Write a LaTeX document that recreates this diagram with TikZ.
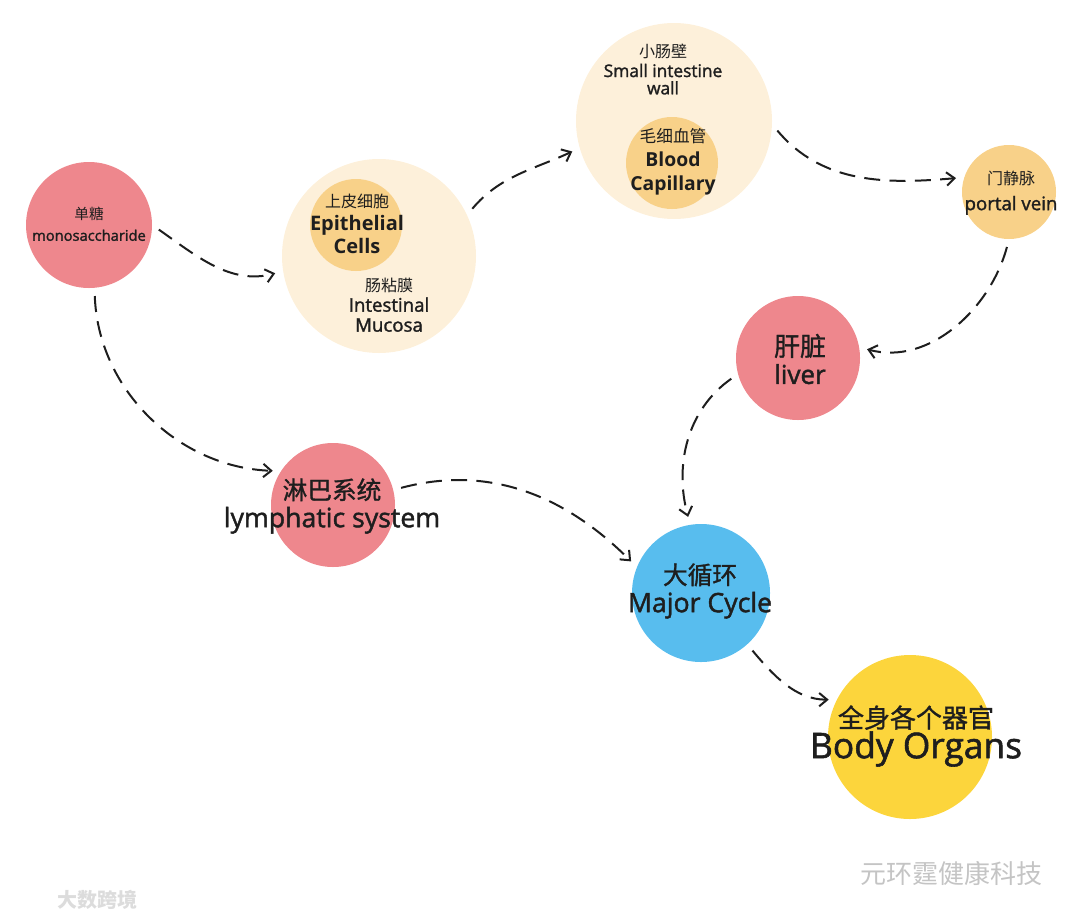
\documentclass[tikz,border=0pt]{standalone}
\usepackage{fontspec}
\setmainfont{Open Sans}
\newfontfamily\semi{Open Sans}[FakeBold=1.6]
\newfontfamily\cjk{Noto Sans CJK SC}
\newfontfamily\cjkb{Noto Sans CJK SC}[FakeBold=1.2]
\definecolor{cPink}{HTML}{EE878D}
\definecolor{cCream}{HTML}{FDF0DA}
\definecolor{cTan}{HTML}{F8D189}
\definecolor{cBlue}{HTML}{58BDEE}
\definecolor{cGold}{HTML}{FCD53C}
\definecolor{cInk}{HTML}{1E1E1E}
\definecolor{cMark}{HTML}{C4C4C4}
\usetikzlibrary{arrows.meta}
\newcommand{\ball}[5]{%
 \node[circle, inner sep=0pt, fill=#5, minimum size=#4*0.75pt] (#3) at (#1,-#2) {};}
\tikzset{
 flow/.style={-{Straight Barb[length=6pt,width=10pt]}, line width=1.5pt, cInk,
   dash pattern=on 12pt off 7pt, shorten <=6pt, shorten >=6pt},
 txt/.style={align=center, text=cInk, inner sep=0pt}
}

\begin{document}
\begin{tikzpicture}[x=0.75pt,y=0.75pt]
\useasboundingbox (0,0) rectangle (1080,-921);
% circles
\ball{89}{225}{mono}{126}{cPink}
\ball{379}{256}{muc}{194}{cCream}
\ball{356}{225}{epi}{92}{cTan}
\ball{674}{121}{wall}{196}{cCream}
\ball{672}{163}{cap}{92}{cTan}
\ball{1009}{192}{port}{94}{cTan}
\ball{798}{358}{liv}{124}{cPink}
\ball{333}{505}{lym}{124}{cPink}
\ball{701}{593}{maj}{138}{cBlue}
\ball{910}{737}{body}{164}{cGold}
% labels
\node[txt, font=\semi\fontsize{11}{16}\selectfont] (monoT) at (89,-224) {{\cjk 单糖}\\monosaccharide};
\node[txt, font=\bfseries\fontsize{15}{17}\selectfont] (epiT) at (357,-224) {{\cjk\mdseries\fontsize{12}{17}\selectfont 上皮细胞}\\Epithelial\\Cells};
\node[txt, font=\semi\fontsize{14}{15}\selectfont] (mucT) at (389,-305) {{\cjk\fontsize{12}{15}\selectfont 肠粘膜}\\Intestinal\\Mucosa};
\node[txt, font=\semi\fontsize{13}{13}\selectfont] (wallT) at (663,-69) {{\cjk\fontsize{12}{17}\selectfont 小肠壁}\\[2pt]Small intestine\\wall};
\node[txt, font=\bfseries\fontsize{14.5}{18}\selectfont] (capT) at (673,-162) {{\cjk\mdseries\fontsize{12.5}{18}\selectfont 毛细血管}\\Blood\\Capillary};
\node[txt, font=\semi\fontsize{14}{19}\selectfont] (portT) at (1011,-193) {{\cjk\fontsize{12}{19}\selectfont 门静脉}\\portal vein};
\node[txt, font=\semi\fontsize{19.5}{21}\selectfont] (livT) at (800,-359) {{\cjkb 肝脏}\\liver};
\node[txt, font=\semi\fontsize{20}{21}\selectfont] (lymT) at (332,-506) {{\cjkb\fontsize{18.5}{21}\selectfont 淋巴系统}\\lymphatic system};
\node[txt, font=\semi\fontsize{20}{21}\selectfont] (majT) at (700,-591) {{\cjkb\fontsize{18.5}{21}\selectfont 大循环}\\Major Cycle};
\node[txt, font=\semi\fontsize{26.5}{23}\selectfont] (bodyT) at (916,-736) {{\cjkb\fontsize{19.5}{23}\selectfont 全身各个器官}\\Body Organs};
% watermarks
\node[text=cMark, font=\cjk\fontsize{19.5}{20}\selectfont, anchor=west] (markR) at (856,-873) {元环霆健康科技};
\node[text=cMark!60, font=\cjk\bfseries\fontsize{15}{16}\selectfont, anchor=west] (markL) at (53,-900) {大数跨境};
% connectors
\draw[flow] (mono.0) to[out=-35,in=195] (muc.189);
\draw[flow] (muc.25) to[out=50,in=205] (wall.196);
\draw[flow] (wall.-2) to[out=-50,in=185] (port.162);
\draw[flow] (port.-90) to[out=-105,in=-15] (liv.10);
\draw[flow] (liv.195) to[out=215,in=105] (maj.99);
\draw[flow] (mono.-85) to[out=-88,in=178] (lym.147);
\draw[flow] (lym.14) to[out=15,in=135] (maj.158);
\draw[flow] (maj.-48) to[out=-50,in=180] (body.153);
\end{tikzpicture}
\end{document}
